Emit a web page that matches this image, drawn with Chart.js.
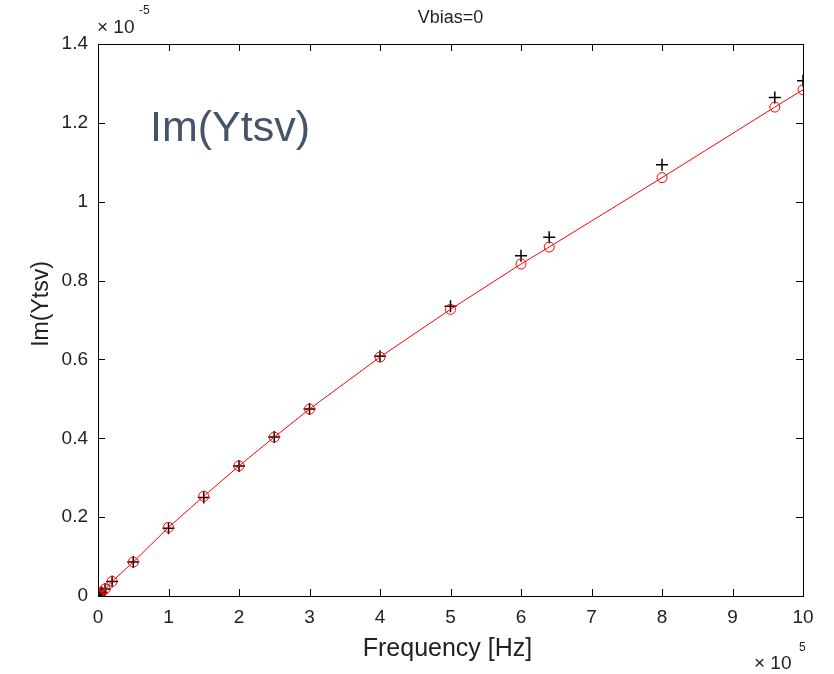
<!DOCTYPE html>
<html lang="en">
<head>
  <meta charset="UTF-8" />
  <title>Im(Ytsv) vs Frequency</title>
  <script src="https://cdn.jsdelivr.net/npm/chart.js"></script>
  <style>
    body { margin: 0; background: #fff; }
    canvas { display: block; }
  </style>
</head>
<body>
  <canvas id="graf" width="834" height="674"></canvas>

  <script>
    // frequency in units of 1e5 Hz, Im(Ytsv) in units of 1e-5
    const freq      = [0, 0.01, 0.02, 0.05, 0.1, 0.2, 0.5, 1, 1.5, 2, 2.5, 3, 4, 5, 6, 6.4, 8, 9.6, 10];
    const fitValues = [0, 0.002, 0.004, 0.009, 0.018, 0.037, 0.086, 0.174, 0.253, 0.330, 0.403, 0.474, 0.606, 0.727, 0.842, 0.885, 1.061, 1.240, 1.284];
    const measured  = [0, 0.002, 0.004, 0.009, 0.018, 0.037, 0.086, 0.172, 0.250, 0.330, 0.403, 0.474, 0.608, 0.735, 0.863, 0.910, 1.094, 1.264, 1.307];
    const xTicks = [0, 1, 2, 3, 4, 5, 6, 7, 8, 9, 10];
    const yTicks = [0, 0.2, 0.4, 0.6, 0.8, 1, 1.2, 1.4];

    const FONT = "'Liberation Sans', Arial, sans-serif";
    const toXY = (ys) => freq.map((f, i) => ({ x: f, y: ys[i] }));

    // box, inward ticks on all sides, titles and exponents (MATLAB look)
    const matlabFrame = {
      id: 'matlabFrame',
      afterDraw(chart) {
        const { ctx, chartArea: a, scales: { x, y } } = chart;
        ctx.save();
        ctx.strokeStyle = '#000';
        ctx.lineWidth = 1;
        ctx.strokeRect(a.left + 0.5, a.top + 0.5, a.right - a.left, a.bottom - a.top);
        ctx.beginPath();
        xTicks.forEach(v => {
          const px = Math.round(x.getPixelForValue(v)) + 0.5;
          ctx.moveTo(px, a.bottom); ctx.lineTo(px, a.bottom - 7);
          ctx.moveTo(px, a.top); ctx.lineTo(px, a.top + 7);
        });
        yTicks.forEach(v => {
          const py = Math.round(y.getPixelForValue(v)) + 0.5;
          ctx.moveTo(a.left, py); ctx.lineTo(a.left + 7, py);
          ctx.moveTo(a.right, py); ctx.lineTo(a.right - 7, py);
        });
        ctx.stroke();

        ctx.fillStyle = '#222';
        ctx.textAlign = 'center';
        ctx.textBaseline = 'middle';
        ctx.font = `18px ${FONT}`;
        ctx.fillText('Vbias=0', (a.left + a.right) / 2, 18);

        ctx.font = `25px ${FONT}`;
        ctx.fillText('Frequency [Hz]', (a.left + a.right) / 2 - 3, 649);
        ctx.font = `23px ${FONT}`;
        ctx.save();
        ctx.translate(42, (a.top + a.bottom) / 2 - 16);
        ctx.rotate(-Math.PI / 2);
        ctx.fillText('Im(Ytsv)', 0, 0);
        ctx.restore();

        // exponents
        ctx.textAlign = 'left';
        ctx.font = `19px ${FONT}`;
        ctx.fillText('\u00d7 10', 97, 28);
        ctx.font = `12px ${FONT}`;
        ctx.fillText('-5', 139, 11);
        ctx.font = `19px ${FONT}`;
        ctx.fillText('\u00d7 10', 754, 664);
        ctx.font = `12px ${FONT}`;
        ctx.fillText('5', 799, 648);

        // annotation
        ctx.fillStyle = '#44546a';
        ctx.font = `43px ${FONT}`;
        ctx.textBaseline = 'alphabetic';
        ctx.fillText('Im(Ytsv)', 150, 141);
        ctx.restore();
      }
    };

    new Chart(document.getElementById('graf').getContext('2d'), {
      type: 'scatter',
      data: {
        datasets: [
          {
            label: 'fit',
            data: toXY(fitValues),
            showLine: true,
            borderColor: '#ff0000',
            borderWidth: 1,
            pointStyle: 'circle',
            pointRadius: 5,
            pointBorderColor: '#ff0000',
            pointBackgroundColor: 'rgba(0,0,0,0)',
            pointBorderWidth: 1
          },
          {
            label: 'measured',
            data: toXY(measured),
            showLine: false,
            pointStyle: 'cross',
            pointRadius: 6,
            pointBorderColor: '#000',
            pointBorderWidth: 1.5
          }
        ]
      },
      options: {
        responsive: false,
        animation: false,
        devicePixelRatio: 1,
        layout: { padding: { top: 44, right: 31, left: 0, bottom: 0 } },
        plugins: {
          legend: { display: false },
          tooltip: { enabled: false }
        },
        scales: {
          x: {
            type: 'linear',
            min: 0, max: 10,
            afterBuildTicks: s => { s.ticks = xTicks.map(v => ({ value: v })); },
            afterFit: s => { s.height = 78; },
            grid: { display: false },
            border: { display: false },
            ticks: { color: '#222', font: { family: FONT, size: 19 }, padding: 2, maxRotation: 0, autoSkip: false }
          },
          y: {
            type: 'linear',
            min: 0, max: 1.4,
            afterBuildTicks: s => { s.ticks = yTicks.map(v => ({ value: v })); },
            afterFit: s => { s.width = 98; },
            grid: { display: false },
            border: { display: false },
            ticks: {
              color: '#222', font: { family: FONT, size: 19 }, padding: 2, autoSkip: false,
              callback: v => String(+v.toFixed(1))
            }
          }
        }
      },
      plugins: [matlabFrame]
    });
  </script>
</body>
</html>
